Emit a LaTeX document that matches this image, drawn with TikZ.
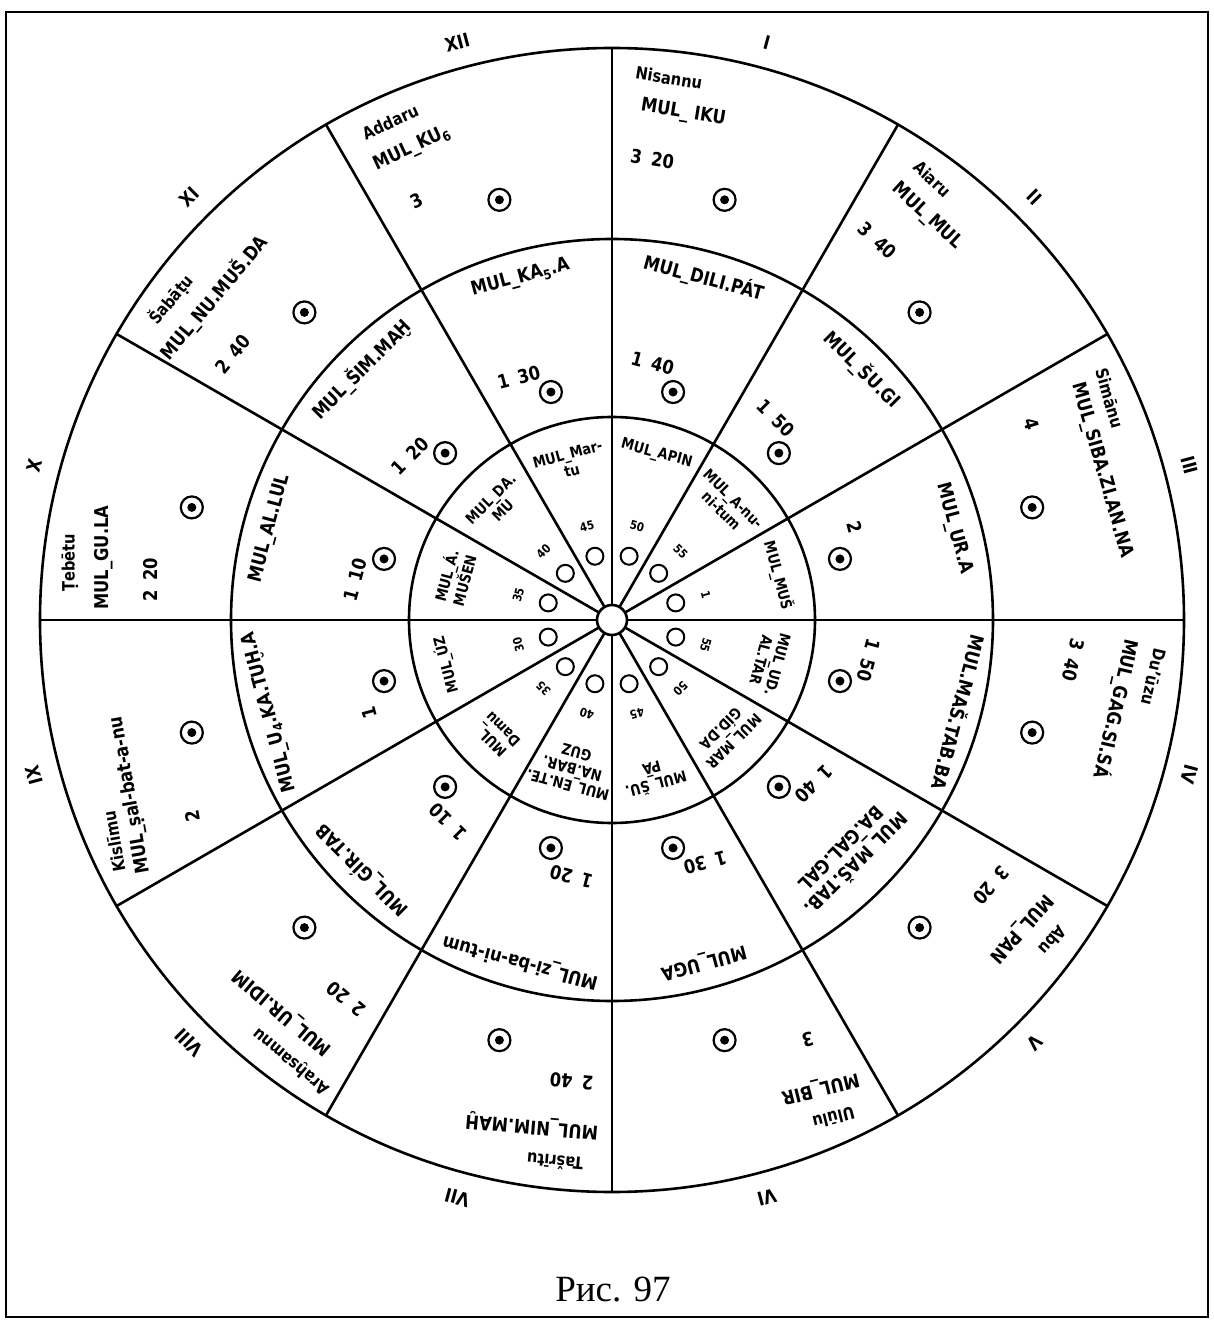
\documentclass[tikz,border=0pt]{standalone}
\usepackage{fontspec}
\setmainfont[FakeStretch=0.86]{DejaVu Sans}
\newfontfamily\capfont{Liberation Serif}
\tikzset{
  rim/.style={line width=2.6pt},
  lbl/.style={font=\bfseries\fontsize{19}{21}\selectfont,inner sep=0pt,align=center},
  mon/.style={font=\bfseries\fontsize{17}{19}\selectfont,inner sep=0pt},
  sml/.style={font=\bfseries\fontsize{15}{17}\selectfont,inner sep=0pt,align=center},
  wee/.style={font=\bfseries\fontsize{12}{12}\selectfont,inner sep=0pt},
  rom/.style={font=\bfseries\fontsize{19}{19}\selectfont,inner sep=0pt},
  ring/.style={circle,draw,line width=2.2pt,minimum size=22pt,inner sep=0pt},
  hole/.style={circle,draw,line width=2pt,minimum size=17pt,inner sep=0pt}
}
\begin{document}
\begin{tikzpicture}[x=1pt,y=1pt]
\useasboundingbox (-612,620) rectangle (602,-702);
\draw[line width=2.4pt] (-606,608) rectangle (596,-697);
% rings and spokes
\foreach \r in {572,381,203} \draw[rim] (0,0) circle (\r);
\foreach \ang in {0,30,...,330} \draw[rim] (\ang:15) -- (\ang:572);
\node[circle,draw,rim,fill=white,minimum size=30pt,inner sep=0pt] (hub) at (0,0) {};
% outer ring: month, star, value
\foreach \n/\rt/\dd/\mo/\st/\val in {
  1/-9/7/Nisannu/MUL\_ IKU/3\enspace 20,
  2/-43/7/Aiaru/MUL\_MUL/3\enspace 40,
  3/-74/2/Simānu/MUL\_SIBA.ZI.AN.NA/4,
  4/-103/5/Du'ūzu/MUL\_GAG.SI.SÁ/3\enspace 40,
  5/-132/8/Abu/MUL\_PAN/3\enspace 20,
  6/-166/9/Ulūlu/MUL\_BIR/3,
  7/175/6/Tašrītu/MUL\_NIM.MAḪ/2\enspace 40,
  8/140/5/Araḫsamnu/MUL\_UR.IDIM/2\enspace 20,
  9/100/5/Kislīmu/MUL\_ṣal-bat-a-nu/2,
  10/90/8/Ṭebētu/MUL\_GU.LA/2\enspace 20,
  11/50/6/Šabāṭu/MUL\_NU.MUŠ.DA/2\enspace 40,
  12/25/8/Addaru/MUL\_KU\textsubscript{6}/3}{
  \pgfmathsetmacro\ang{105-30*\n}
  \node[mon,rotate=\rt] (mo\n) at ({\ang+9}:545) {\mo};
  \node[lbl,rotate=\rt] (st\n) at ({\ang+\dd}:512) {\st};
  \node[lbl,rotate=\rt] (va\n) at ({\ang+10}:463) {\val};
  \node[ring] (sa\n) at (\ang:435) {};
  \fill (sa\n.center) circle (4.5);
}
% middle ring
\foreach \n/\rr/\st/\val in {
  1/354/MUL\_DILI.PÁT/1\enspace 40,
  2/354/MUL\_ŠU.GI/1\enspace 50,
  3/354/MUL\_UR.A/2,
  4/360/MUL.MAŠ.TAB.BA/1\enspace 50,
  5/336/MUL\_MAŠ.TAB.\\BA.GAL.GAL/1\enspace 40,
  6/354/MUL\_UGA/1\enspace 30,
  7/354/MUL\_zi-ba-ni-tum/1\enspace 20,
  8/354/MUL\_GÍR.TAB/1\enspace 10,
  9/354/MUL\_U\textsubscript{4}.KA.TUḪ.A/1,
  10/354/MUL\_AL.LUL/1\enspace 10,
  11/354/MUL\_ŠIM.MAḪ/1\enspace 20,
  12/354/MUL\_KA\textsubscript{5}.A/1\enspace 30}{
  \pgfmathsetmacro\ang{105-30*\n}
  \pgfmathsetmacro\rt{\ang-90}
  \node[lbl,rotate=\rt] (mb\n) at (\ang:\rr) {\st};
  \node[lbl,rotate=\rt] (vb\n) at ({\ang+6}:260) {\val};
  \node[ring] (sb\n) at (\ang:236) {};
  \fill (sb\n.center) circle (4.5);
}
% inner ring
\foreach \n/\rr/\st/\val in {
  1/172/MUL\_APIN/50,
  2/163/MUL\_A-nu-\\ni-tum/55,
  3/172/MUL\_MUŠ/1,
  4/163/MUL\_UD.\\AL.TAR/55,
  5/163/MUL\_MAR\\GÍD.DA/50,
  6/163/MUL\_ŠU.\\PA/45,
  7/154/MUL\_EN.TE.\\NA.BAR.\\GUZ/40,
  8/163/MUL\_\\Damu/35,
  9/172/MUL\_ÚZ/30,
  10/163/MUL\_Á.\\MUŠEN/35,
  11/163/MUL\_DA.\\MU/40,
  12/163/MUL\_Mar-\\tu/45}{
  \pgfmathsetmacro\ang{105-30*\n}
  \pgfmathsetmacro\rt{\ang-90}
  \node[sml,rotate=\rt] (mc\n) at (\ang:\rr) {\st};
  \node[wee,rotate=\rt] (vc\n) at (\ang:97) {\val};
  \node[hole] (hc\n) at (\ang:66) {};
}
% month numerals
\foreach \n/\nm in {1/I,2/II,3/III,4/IV,5/V,6/VI,7/VII,8/VIII,9/IX,10/X,11/XI,12/XII}{
  \pgfmathsetmacro\ang{105-30*\n}
  \pgfmathsetmacro\rt{\ang-90}
  \node[rom,rotate=\rt] (rn\n) at (\ang:598) {\nm};
}
\node[font=\capfont\fontsize{37}{40}\selectfont] (cap) at (1,-670) {Рис. 97};
\end{tikzpicture}
\end{document}
